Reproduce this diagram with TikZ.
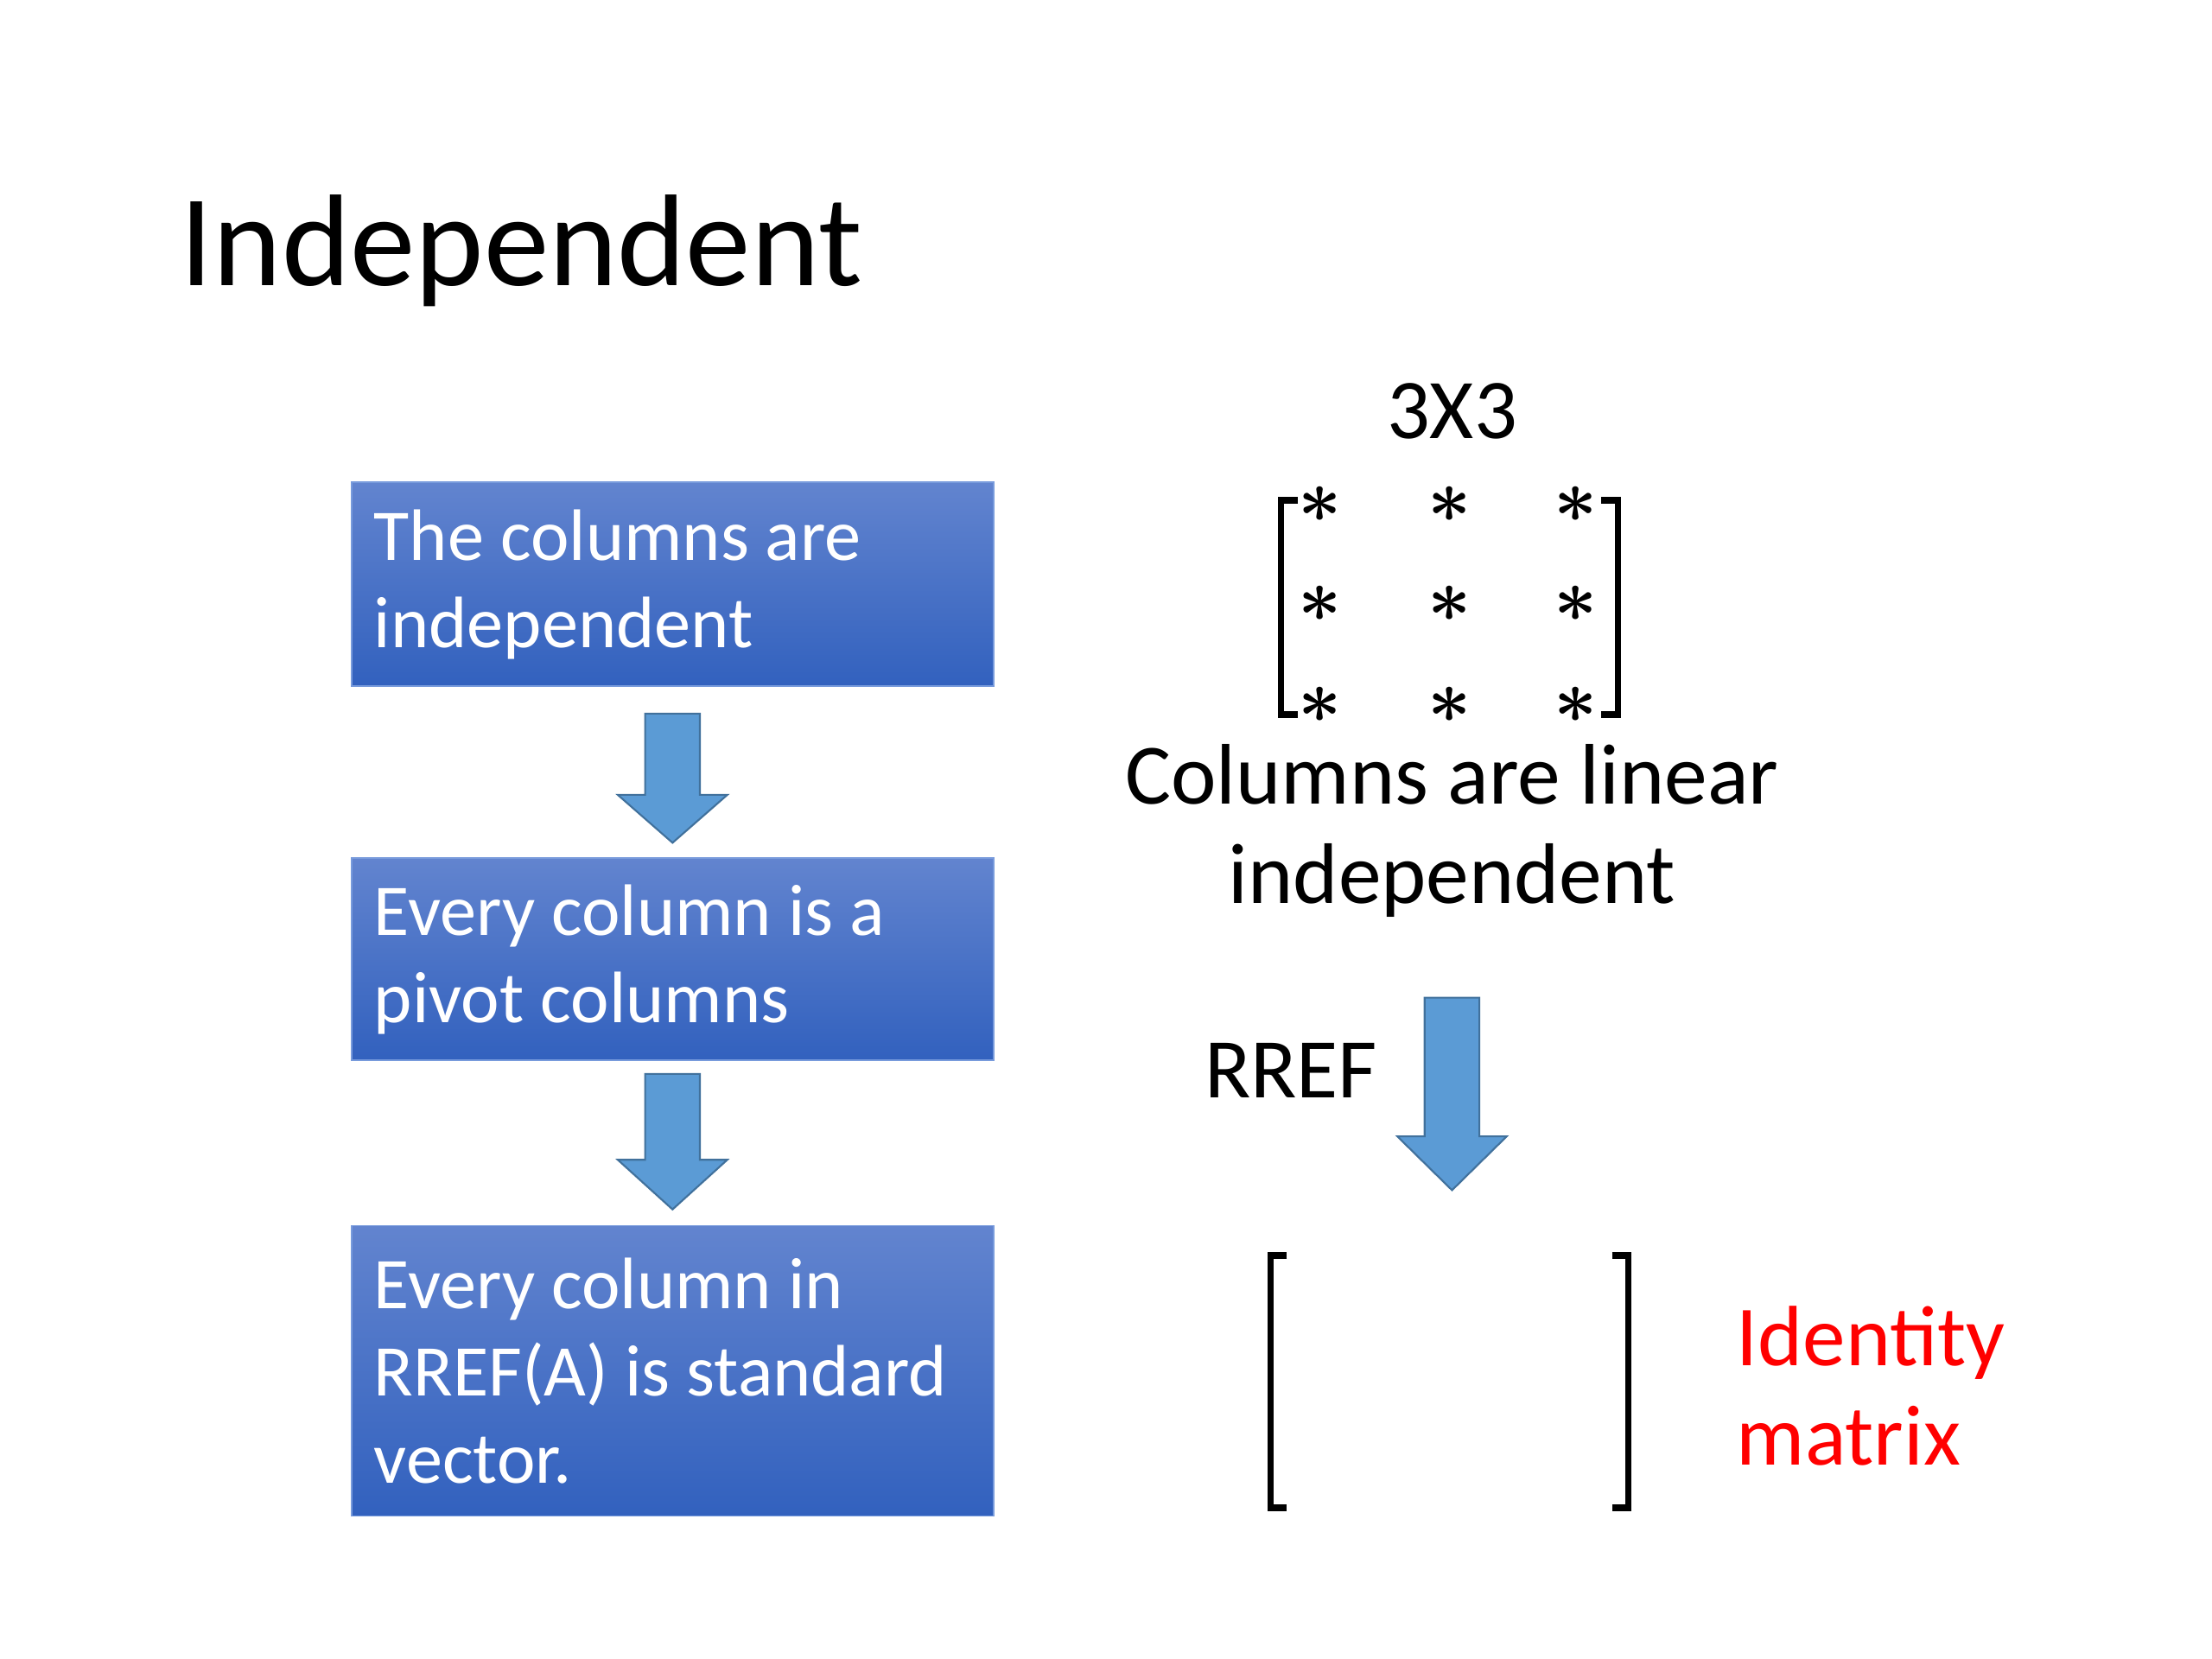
\documentclass[tikz,border=0pt]{standalone}
\usepackage{fontspec}
\setmainfont{Carlito}
\usetikzlibrary{calc}
\usetikzlibrary{positioning}
\definecolor{boxtop}{RGB}{98,132,207}
\definecolor{boxbot}{RGB}{50,97,190}
\definecolor{boxline}{RGB}{120,155,220}
\definecolor{afill}{RGB}{91,155,213}
\definecolor{aline}{RGB}{65,113,156}
\tikzset{flowbox/.style = {rectangle, top color=boxtop, bottom color=boxbot, draw=boxline, line width=0.5pt,
    text=white, text width=6.91cm, align=flush left, inner xsep=0.26cm, inner ysep=0, minimum width=7.43cm,
    font=\fontsize{24}{28.7}\selectfont}}
\tikzset{blockarrow/.style = {fill=afill, draw=aline, line width=0.6pt}}
\tikzset{bracket/.style = {line width=2.2pt}}
\tikzset{astnode/.style = {inner sep=0, font=\fontsize{24}{24}\selectfont\boldmath}}
% #1 top, #2 tip, #3 head length
\newcommand{\blockdown}[3]{%
  \draw[blockarrow] ($(#1)+(-32,0)$) -- ($(#1)+(32,0)$) -- ($(#2)+(32,-#3)$) -- ($(#2)+(64,-#3)$)
    -- (#2) -- ($(#2)+(-64,-#3)$) -- ($(#2)+(-32,-#3)$) -- cycle;}

\begin{document}
\begin{tikzpicture}[x=0.0099cm, y=-0.0099cm]
    \fill[white] (0cm,0cm) rectangle (25.6cm,-19.2cm);
    \useasboundingbox (0cm,0cm) rectangle (25.6cm,-19.2cm);

    \node [anchor=base west, inner sep=0, font=\fontsize{43}{52}\selectfont] (title) at (210,334) {Independent};

    % left column
    \node [flowbox, minimum height=2.36cm] (cols) at (786,683) {The columns are\\independent};
    \node [flowbox, minimum height=2.34cm] (pivot) at (786,1121) {Every column is a\\pivot columns};
    \node [flowbox, minimum height=3.36cm] (std) at (786,1602) {Every column in\\RREF(A) is standard\\vector.};

    \coordinate (a1top) at ($(cols.south)+(0,31)$);
    \coordinate (a1tip) at ($(pivot.north)+(0,-17)$);
    \blockdown{a1top}{a1tip}{56}
    \coordinate (a2top) at ($(pivot.south)+(0,15)$);
    \coordinate (a2tip) at ($(std.north)+(0,-18)$);
    \blockdown{a2top}{a2tip}{58}

    % right column
    \node [anchor=base, inner sep=0, font=\fontsize{28}{34}\selectfont] (size) at (1697,513) {3X3};
    \foreach \x [count=\c] in {1543,1694,1842}
      \foreach \y [count=\r] in {590,706,824}
        \node [astnode] (s\r\c) at (\x,\y) {$\ast$};
    \draw [bracket] (1517,585) -- (1497,585) -- (1497,835) -- (1517,835);
    \draw [bracket] (1871,585) -- (1891,585) -- (1891,835) -- (1871,835);

    \node [anchor=base, align=center, inner sep=0, font=\fontsize{28.3}{32.8}\selectfont] (lin) at (1697,1056) {Columns are linear\\independent};

    \node [anchor=base west, inner sep=0, font=\fontsize{28}{34}\selectfont] (rref) at (1407,1283) {RREF};
    \coordinate (rtop) at (1697,1166);
    \coordinate (rtip) at (1697,1391);
    \blockdown{rtop}{rtip}{63}

    \draw [bracket] (1504,1467) -- (1485,1467) -- (1485,1762) -- (1504,1762);
    \draw [bracket] (1884,1467) -- (1903,1467) -- (1903,1762) -- (1884,1762);

    \node [anchor=base west, align=left, inner sep=0, text=red, font=\fontsize{28.2}{32.8}\selectfont] (ident) at (2029,1712) {Identity\\matrix};
\end{tikzpicture}
\end{document}
